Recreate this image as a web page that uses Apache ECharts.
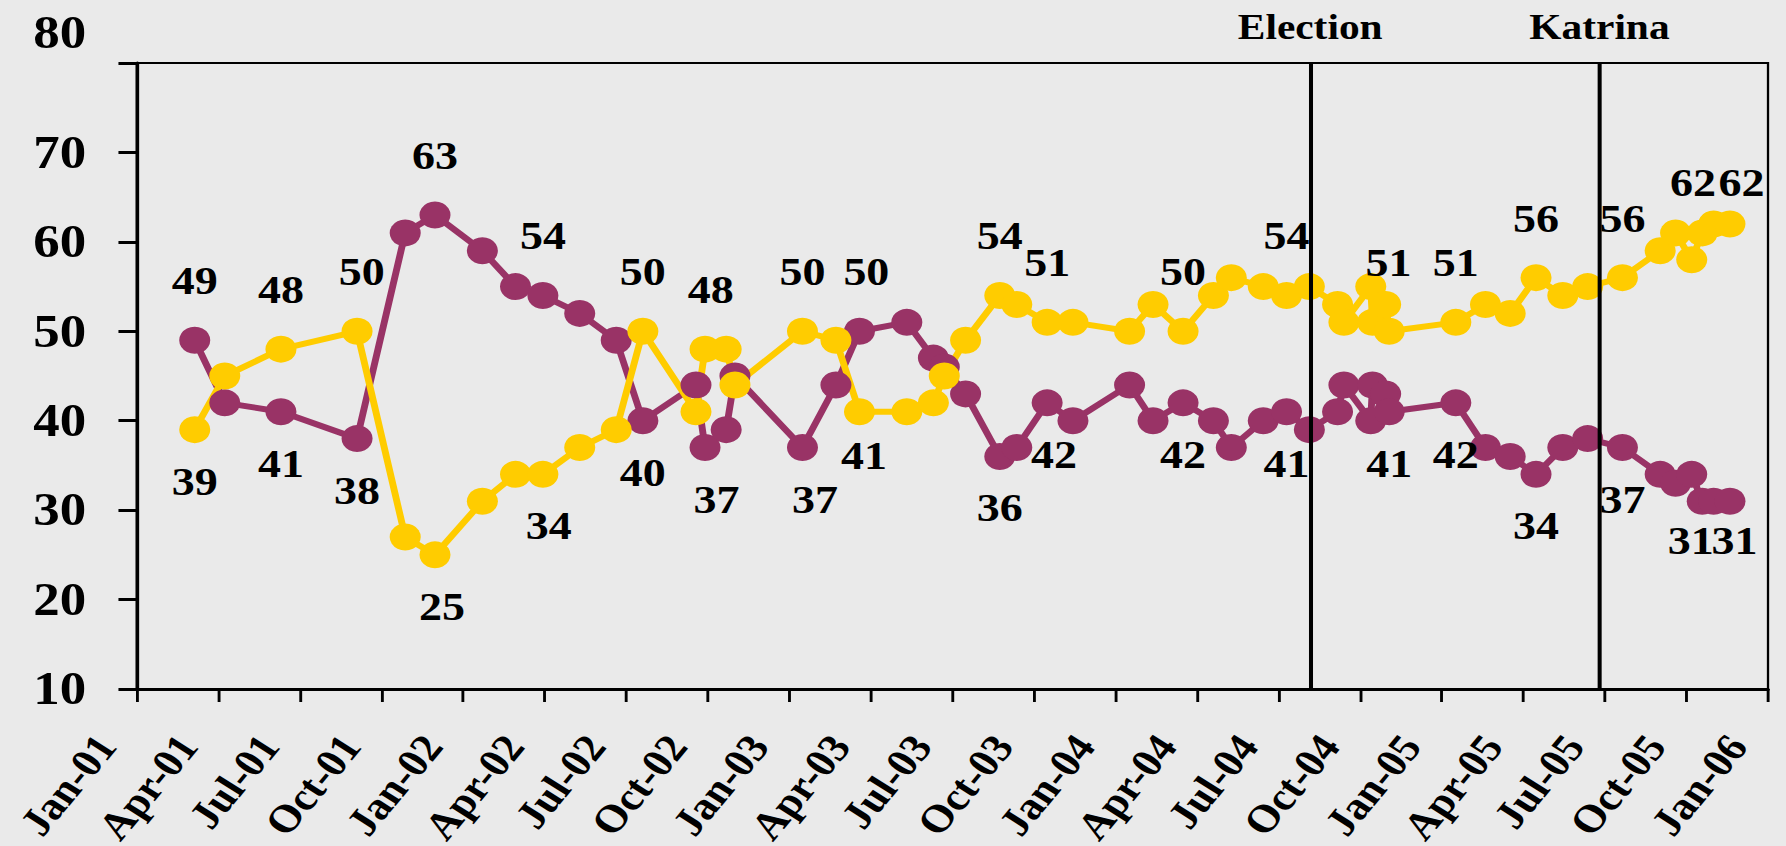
<!DOCTYPE html>
<html>
<head>
<meta charset="utf-8">
<script src="https://cdn.jsdelivr.net/npm/echarts@6/dist/echarts.min.js"></script>
<style>
	html, body { margin: 0; padding: 0; background: #eaeaea; overflow: hidden; }
	/* the source picture was pasted stretched sideways, so we stretch the canvas the same way */
	#chart { width: 1553px; height: 846px; transform: scaleX(1.15); transform-origin: 0 0; }
</style>
</head>
<body>
<div id="chart"></div>
<script>
	var pollDates = [
		'2001-03-05', '2001-04-08', '2001-06-10', '2001-09-04', '2001-10-28', '2001-11-30',
		'2002-01-23', '2002-02-27', '2002-03-30', '2002-05-10', '2002-06-20', '2002-07-20',
		'2002-09-18', '2002-09-28', '2002-10-22', '2002-11-01', '2003-01-16', '2003-02-21',
		'2003-03-19', '2003-05-11', '2003-06-10', '2003-06-22', '2003-07-16', '2003-08-24',
		'2003-09-12', '2003-10-16', '2003-11-14', '2004-01-17', '2004-02-12', '2004-03-16',
		'2004-04-19', '2004-05-09', '2004-06-14', '2004-07-10', '2004-08-05', '2004-09-06',
		'2004-09-13', '2004-10-13', '2004-10-15', '2004-10-30', '2004-11-03', '2005-01-17',
		'2005-02-18', '2005-03-17', '2005-04-15', '2005-05-15', '2005-06-12', '2005-07-21',
		'2005-09-02', '2005-09-19', '2005-10-07', '2005-10-19', '2005-11-01', '2005-11-19'
	];
	//purple line
	var purpleValues = [
		49, 42, 41, 38, 61, 63,
		59, 55, 54, 52, 49, 40,
		44, 37, 39, 45, 37, 44,
		50, 51, 47, 46, 43, 36,
		37, 42, 40, 44, 40, 42,
		40, 37, 40, 41, 39, 41,
		44, 40, 44, 43, 41, 42,
		37, 36, 34, 37, 38, 37,
		34, 33, 34, 31, 31, 31
	];
	//yellow line
	var yellowValues = [
		39, 45, 48, 50, 27, 25,
		31, 34, 34, 37, 39, 50,
		41, 48, 48, 44, 50, 49,
		41, 41, 42, 45, 49, 54,
		53, 51, 51, 50, 53, 50,
		54, 56, 55, 54, 55, 53,
		51, 55, 51, 53, 50, 51,
		53, 52, 56, 54, 55, 56,
		59, 61, 58, 61, 62, 62
	];
	//x axis tick labels, one every 3 months from Jan-01
	var quarterNames = ['Jan', 'Apr', 'Jul', 'Oct'];
	//vertical event lines
	var eventNames = ['Election', 'Katrina'];
	var eventDates = ['2004-08-06', '2005-06-25'];

	//which points carry a value label
	var purpleTop = [0, 5, 8, 18];
	var purpleBottom = [2, 3, 11, 13, 16, 23, 25, 29, 33, 40, 41, 44, 47, 51, 53];
	var yellowTop = [2, 3, 11, 13, 16, 23, 25, 29, 33, 38, 41, 44, 47, 52, 53];
	var yellowBottom = [0, 5, 8, 18];
	//small nudges the source labels had
	var purpleShift = { 13: [10, 0], 16: [11, 0], 18: [6, 0], 25: [6, 0], 51: [-10, -12], 53: [4, -12] };
	var yellowShift = { 3: [4, 0], 5: [6, 0], 8: [5, 0], 13: [5, 0], 18: [4, -8], 38: [14, 0], 52: [-18, 18], 53: [10, 18] };

	var FONT = '"Liberation Serif", "Times New Roman", serif';
	var NBSP = '\u00a0';

	//date -> months since Jan 2001
	function toMonth(s) {
		var p = s.split('-');
		var y = +p[0], m = +p[1], d = +p[2];
		var dim = new Date(y, m, 0).getDate();
		return (y - 2001) * 12 + (m - 1) + (d - 1) / dim;
	}

	function buildData(values, top, bottom, shift) {
		var list = [];
		for (var i = 0; i < values.length; i++) {
			var item = { value: [toMonth(pollDates[i]), values[i]] };
			if (top.indexOf(i) >= 0) {
				item.label = { show: true, position: 'top', distance: 26, offset: shift[i] || [0, 0] };
			} else if (bottom.indexOf(i) >= 0) {
				item.label = { show: true, position: 'bottom', distance: 18, offset: shift[i] || [0, 0] };
			}
			list.push(item);
		}
		return list;
	}

	var labelStyle = {
		show: false,
		color: '#000',
		fontFamily: FONT,
		fontWeight: 'bold',
		fontSize: 40
	};

	var markData = [];
	for (var i = 0; i < eventNames.length; i++) {
		markData.push({ name: eventNames[i], xAxis: toMonth(eventDates[i]) });
	}

	var option = {
		animation: false,
		backgroundColor: '#eaeaea',
		grid: {
			left: 119, right: 15.6, top: 63, bottom: 157,
			show: true, borderColor: '#000', borderWidth: 2,
			containLabel: false, outerBoundsMode: 'none'
		},
		xAxis: {
			type: 'value', min: 0, max: 60, interval: 3,
			axisLine: { show: true, lineStyle: { color: '#000', width: 3 } },
			axisTick: { show: true, length: 13, lineStyle: { color: '#000', width: 2.5 } },
			splitLine: { show: false },
			axisLabel: {
				rotate: 54, margin: 14, padding: [0, 16, 0, 0],
				color: '#000', fontFamily: FONT, fontWeight: 'bold', fontSize: 39,
				formatter: function (v) {
					var q = Math.round(v / 3);
					var yr = 1 + Math.floor(q / 4);
					return quarterNames[q % 4] + '-' + (yr < 10 ? '0' + yr : yr) + NBSP + NBSP + NBSP;
				}
			}
		},
		yAxis: {
			type: 'value', min: 10, max: 80, interval: 10,
			axisLine: { show: true, lineStyle: { color: '#000', width: 3 } },
			axisTick: { show: true, length: 16, lineStyle: { color: '#000', width: 3 } },
			splitLine: { show: false },
			axisLabel: {
				margin: 44, color: '#000', fontFamily: FONT, fontWeight: 'bold', fontSize: 46,
				//the top label sits above its tick in the source
				formatter: function (v) { return v === 80 ? '{hi|' + v + '}' : String(v); },
				rich: { hi: { padding: [0, 0, 60, 0], color: '#000', fontFamily: FONT, fontWeight: 'bold', fontSize: 46 } }
			}
		},
		series: [
			{
				type: 'line', data: buildData(purpleValues, purpleTop, purpleBottom, purpleShift),
				symbol: 'circle', symbolSize: 27, showAllSymbol: true,
				lineStyle: { color: '#993366', width: 6 },
				itemStyle: { color: '#993366' },
				label: labelStyle,
				emphasis: { disabled: true }
			}, {
				type: 'line', data: buildData(yellowValues, yellowTop, yellowBottom, yellowShift),
				symbol: 'circle', symbolSize: 27, showAllSymbol: true,
				lineStyle: { color: '#ffcc00', width: 6 },
				itemStyle: { color: '#ffcc00' },
				label: labelStyle,
				emphasis: { disabled: true },
				markLine: {
					silent: true, symbol: ['none', 'none'],
					lineStyle: { color: '#000', width: 3.5, type: 'solid' },
					label: {
						show: true, position: 'end', formatter: '{b}', distance: 19,
						color: '#000', fontFamily: FONT, fontWeight: 'bold', fontSize: 36
					},
					data: markData
				}
			}]
	};

	var myChart = echarts.init(document.getElementById('chart'), null, { renderer: 'svg' });
	myChart.setOption(option);
</script>
</body>
</html>
